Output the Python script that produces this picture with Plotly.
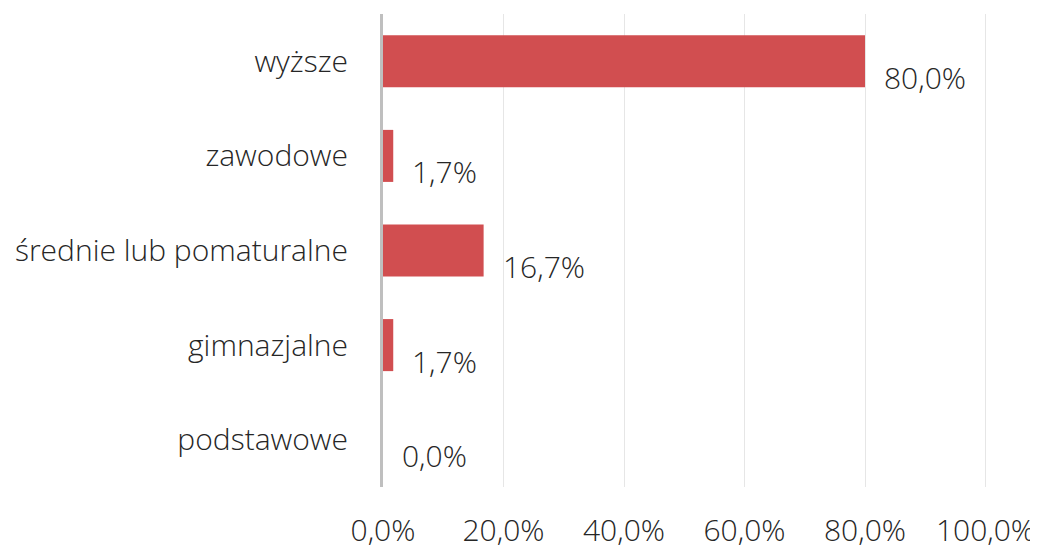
import plotly.graph_objects as go

categories = ["wyższe", "zawodowe", "średnie lub pomaturalne", "gimnazjalne", "podstawowe"]
values = [80.0, 1.7, 16.7, 1.7, 0.0]
tick_vals = [0, 20, 40, 60, 80, 100]
tick_text = ["0,0%", "20,0%", "40,0%", "60,0%", "80,0%", "100,0%"]

FONT = "Open Sans"
TXT = "#262626"
FS = 30

fig = go.Figure(go.Bar(
    x=values, y=categories, orientation="h",
    marker=dict(color="#D14E50", line=dict(width=0)),
    width=0.55,
))

for v, c in zip(values, categories):
    fig.add_annotation(
        x=v, y=c, text=f"{v:.1f}%".replace(".", ","),
        showarrow=False, xanchor="left", yanchor="middle",
        xshift=17, yshift=-16,
        font=dict(family=FONT, size=FS, color=TXT, weight=300),
    )

# page body has an 8px margin, so margins compensate for that offset
fig.update_layout(
    width=1038, height=549,
    margin=dict(l=375, r=59, t=6, b=70),
    plot_bgcolor="white", paper_bgcolor="white",
    showlegend=False,
    font=dict(family=FONT, size=FS, color=TXT, weight=300),
)
fig.update_xaxes(
    range=[0, 100.25], tickvals=tick_vals, ticktext=tick_text,
    showgrid=True, gridcolor="#E6E6E6", gridwidth=1,
    zeroline=False, showline=False, ticks="",
    ticklabelstandoff=23, automargin=False,
    tickfont=dict(family=FONT, size=FS, color=TXT, weight=300),
)
fig.update_yaxes(
    categoryorder="array", categoryarray=categories, autorange="reversed",
    showgrid=False, zeroline=False,
    showline=True, linecolor="#BFBFBF", linewidth=3,
    ticks="", ticklabelstandoff=26, automargin=False,
    tickfont=dict(family=FONT, size=FS, color=TXT, weight=300),
)

fig.write_html("out.html")
